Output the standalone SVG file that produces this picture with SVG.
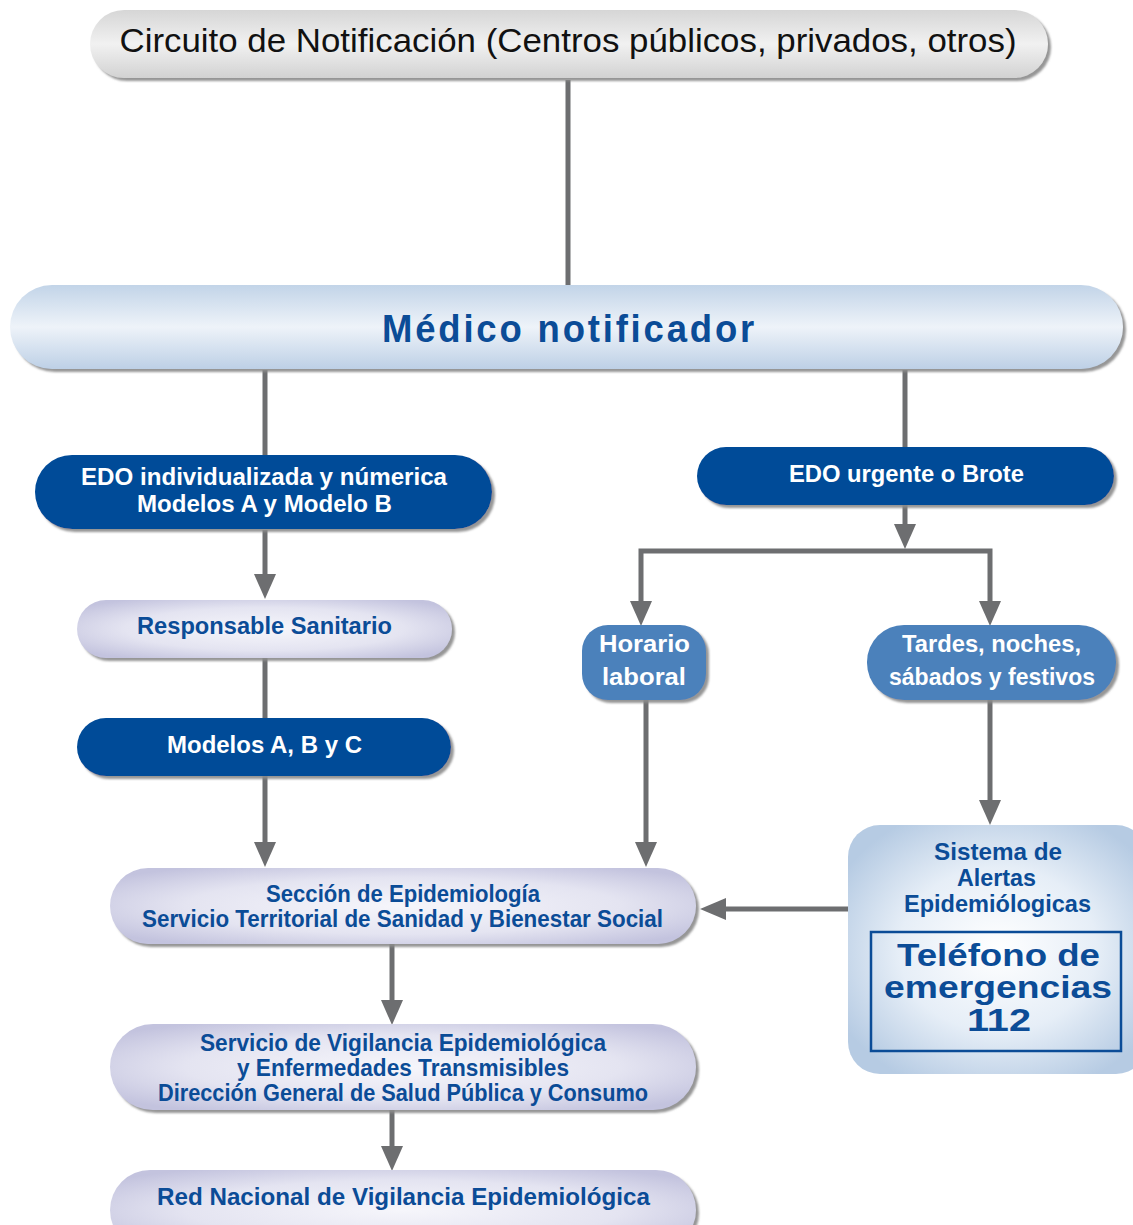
<svg xmlns="http://www.w3.org/2000/svg" width="1133" height="1225" viewBox="0 0 1133 1225">
<defs>
<style>
.t{font-family:"Liberation Sans Narrow","Liberation Sans",Arial,sans-serif;font-weight:bold;font-size:24px;text-anchor:middle}
.big{font-size:39px;letter-spacing:3px}
.tel{font-family:"Liberation Sans",Arial,sans-serif;font-weight:900;font-size:32px;fill:#0b4c97;text-anchor:middle}
.w{fill:#ffffff}
.b{fill:#0b4c97}
.dark{fill:#014b98}
.mid{fill:#4c81bb}
.ln{stroke:#6d6e70;stroke-width:5;fill:none}
.ah{fill:#6d6e70}
</style>
<filter id="sh" x="-5%" y="-10%" width="110%" height="130%">
<feDropShadow dx="3" dy="3" stdDeviation="1" flood-color="#8a8a8a" flood-opacity="0.9"/>
</filter>
<linearGradient id="gGray" x1="0" y1="0" x2="0" y2="1">
<stop offset="0" stop-color="#d6d6d6"/>
<stop offset="0.5" stop-color="#f1f1f1"/>
<stop offset="1" stop-color="#d2d2d2"/>
</linearGradient>
<linearGradient id="gBlue" x1="0" y1="0" x2="0" y2="1">
<stop offset="0" stop-color="#c2d4e8"/>
<stop offset="0.5" stop-color="#eef3f9"/>
<stop offset="1" stop-color="#bdd0e6"/>
</linearGradient>
<radialGradient id="gLav" cx="0.5" cy="0.5" r="0.62">
<stop offset="0" stop-color="#f6f6fb"/>
<stop offset="0.6" stop-color="#e4e4f1"/>
<stop offset="1" stop-color="#c3c3de"/>
</radialGradient>
<radialGradient id="gAlert" cx="0.5" cy="0.5" r="0.6">
<stop offset="0" stop-color="#ffffff"/>
<stop offset="0.55" stop-color="#e6eef7"/>
<stop offset="1" stop-color="#b6cbe3"/>
</radialGradient>
</defs>

<g id="connectors">
<line class="ln" x1="568" y1="80" x2="568" y2="286"/>
<line class="ln" x1="265" y1="370" x2="265" y2="456"/>
<line class="ln" x1="905" y1="370" x2="905" y2="448"/>
<line class="ln" x1="265" y1="530" x2="265" y2="578"/>
<polygon class="ah" points="254,574 276,574 265,599"/>
<line class="ln" x1="265" y1="658" x2="265" y2="719"/>
<line class="ln" x1="265" y1="776" x2="265" y2="846"/>
<polygon class="ah" points="254,842 276,842 265,867"/>
<line class="ln" x1="905" y1="505" x2="905" y2="528"/>
<polygon class="ah" points="894,524 916,524 905,549"/>
<polyline class="ln" points="641,605 641,551 990,551 990,605"/>
<polygon class="ah" points="630,601 652,601 641,626"/>
<polygon class="ah" points="979,601 1001,601 990,626"/>
<line class="ln" x1="646" y1="700" x2="646" y2="846"/>
<polygon class="ah" points="635,842 657,842 646,867"/>
<line class="ln" x1="990" y1="700" x2="990" y2="804"/>
<polygon class="ah" points="979,800 1001,800 990,825"/>
<line class="ln" x1="848" y1="909" x2="722" y2="909"/>
<polygon class="ah" points="726,898 726,920 700,909"/>
<line class="ln" x1="392" y1="944" x2="392" y2="1004"/>
<polygon class="ah" points="381,1000 403,1000 392,1025"/>
<line class="ln" x1="392" y1="1110" x2="392" y2="1150"/>
<polygon class="ah" points="381,1146 403,1146 392,1171"/>
</g>

<g id="circuito">
<rect x="90" y="10" width="958" height="68" rx="34" fill="url(#gGray)" filter="url(#sh)"/>
<text x="568" y="52" font-family="'Liberation Sans Narrow','Liberation Sans',Arial,sans-serif" font-size="33" fill="#111" text-anchor="middle" textLength="897" lengthAdjust="spacingAndGlyphs">Circuito de Notificación (Centros públicos, privados, otros)</text>
</g>

<g id="medico">
<rect x="10" y="285" width="1113" height="84" rx="42" fill="url(#gBlue)" filter="url(#sh)"/>
<text x="569.5" y="342" class="t b big" textLength="375" lengthAdjust="spacingAndGlyphs">Médico notificador</text>
</g>

<g id="edo-ind">
<rect x="35" y="455" width="457" height="74" rx="37" class="dark" filter="url(#sh)"/>
<text class="t w" x="264" y="485" textLength="366" lengthAdjust="spacingAndGlyphs">EDO individualizada y númerica</text>
<text class="t w" x="264.5" y="512" textLength="255" lengthAdjust="spacingAndGlyphs">Modelos A y Modelo B</text>
</g>

<g id="responsable">
<rect x="77" y="600" width="375" height="58" rx="29" fill="url(#gLav)" filter="url(#sh)"/>
<text class="t b" x="264.5" y="634" textLength="255" lengthAdjust="spacingAndGlyphs">Responsable Sanitario</text>
</g>

<g id="modelos-abc">
<rect x="77" y="718" width="374" height="58" rx="29" class="dark" filter="url(#sh)"/>
<text class="t w" x="264.5" y="753" textLength="195" lengthAdjust="spacingAndGlyphs">Modelos A, B y C</text>
</g>

<g id="edo-urgente">
<rect x="697" y="447" width="417" height="58" rx="29" class="dark" filter="url(#sh)"/>
<text class="t w" x="906.5" y="482" textLength="235" lengthAdjust="spacingAndGlyphs">EDO urgente o Brote</text>
</g>

<g id="horario">
<rect x="582" y="625" width="124" height="75" rx="26" class="mid" filter="url(#sh)"/>
<text class="t w" x="644.5" y="652" textLength="91" lengthAdjust="spacingAndGlyphs">Horario</text>
<text class="t w" x="644" y="685" textLength="84" lengthAdjust="spacingAndGlyphs">laboral</text>
</g>

<g id="tardes">
<rect x="867" y="625" width="249" height="75" rx="37" class="mid" filter="url(#sh)"/>
<text class="t w" x="991.5" y="652" textLength="179" lengthAdjust="spacingAndGlyphs">Tardes, noches,</text>
<text class="t w" x="992" y="685" textLength="206" lengthAdjust="spacingAndGlyphs">sábados y festivos</text>
</g>

<g id="alertas">
<rect x="848" y="825" width="300" height="249" rx="32" fill="url(#gAlert)"/>
<text class="t b" x="998" y="860" textLength="128" lengthAdjust="spacingAndGlyphs">Sistema de</text>
<text class="t b" x="996.5" y="886" textLength="79" lengthAdjust="spacingAndGlyphs">Alertas</text>
<text class="t b" x="997.5" y="912" textLength="187" lengthAdjust="spacingAndGlyphs">Epidemiólogicas</text>
<rect x="871" y="932" width="250" height="119" fill="none" stroke="#0b4c97" stroke-width="2.5"/>
<text class="tel" x="998.5" y="966" textLength="203" lengthAdjust="spacingAndGlyphs">Teléfono de</text>
<text class="tel" x="998" y="998" textLength="228" lengthAdjust="spacingAndGlyphs">emergencias</text>
<text class="tel" x="999" y="1031" textLength="64" lengthAdjust="spacingAndGlyphs">112</text>
</g>

<g id="seccion">
<rect x="110" y="868" width="586" height="76" rx="38" fill="url(#gLav)" filter="url(#sh)"/>
<text class="t b" x="403" y="902" textLength="274" lengthAdjust="spacingAndGlyphs">Sección de Epidemiología</text>
<text class="t b" x="402.5" y="927" textLength="521" lengthAdjust="spacingAndGlyphs">Servicio Territorial de Sanidad y Bienestar Social</text>
</g>

<g id="servicio-vigilancia">
<rect x="110" y="1024" width="586" height="86" rx="43" fill="url(#gLav)" filter="url(#sh)"/>
<text class="t b" x="403" y="1051" textLength="406" lengthAdjust="spacingAndGlyphs">Servicio de Vigilancia Epidemiológica</text>
<text class="t b" x="403" y="1076" textLength="332" lengthAdjust="spacingAndGlyphs">y Enfermedades Transmisibles</text>
<text class="t b" x="403" y="1101" textLength="490" lengthAdjust="spacingAndGlyphs">Dirección General de Salud Pública y Consumo</text>
</g>

<g id="red-nacional">
<rect x="110" y="1170" width="586" height="80" rx="40" fill="url(#gLav)" filter="url(#sh)"/>
<text class="t b" x="403.5" y="1205" textLength="493" lengthAdjust="spacingAndGlyphs">Red Nacional de Vigilancia Epidemiológica</text>
</g>
</svg>
